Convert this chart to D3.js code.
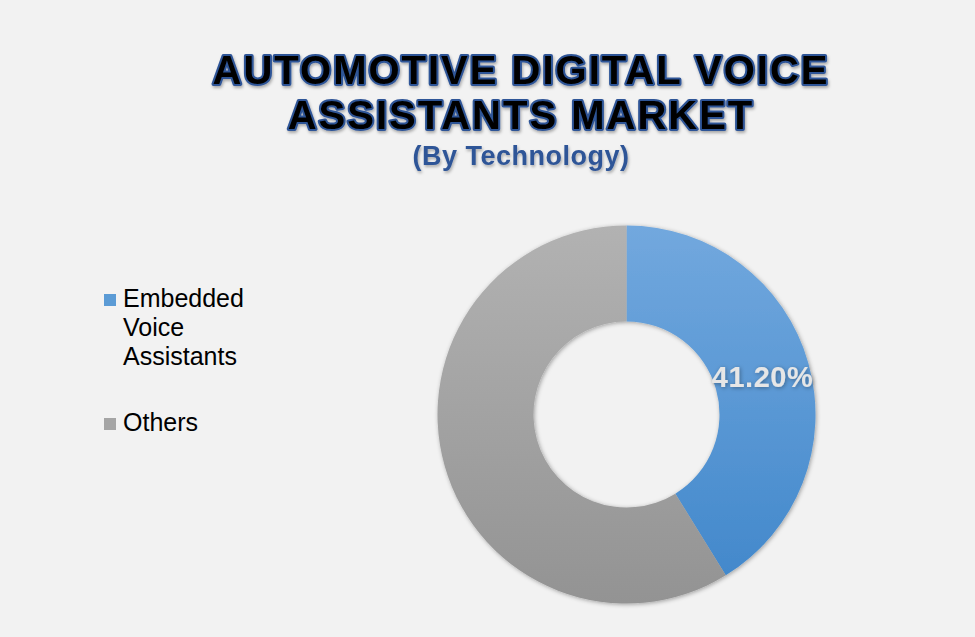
<!DOCTYPE html>
<html>
<head>
<meta charset="utf-8">
<script src="https://cdn.jsdelivr.net/npm/d3@7"></script>
<style>
  body { margin: 0; background: #f2f2f2; }
  svg { display: block; font-family: "Liberation Sans", Arial, sans-serif; }
</style>
</head>
<body>
<div id="viz"></div>
<script>
const categories = ['Embedded Voice Assistants', 'Others']
const legendLines = [['Embedded', 'Voice', 'Assistants'], ['Others']]
const shares = [41.2, 58.8]
const labels = ['41.20%', null]
const titleLines = ['AUTOMOTIVE DIGITAL VOICE', 'ASSISTANTS MARKET']
const subtitle = '(By Technology)'

const w = 975, h = 637
const data = categories.map((c, i) => ({ name: c, value: shares[i], label: labels[i], lines: legendLines[i] }))

const svg = d3.select('#viz')
    .append('svg')
    .attr('width', w)
    .attr('height', h)
    .attr('viewBox', [0, 0, w, h])

svg.append('rect').attr('width', w).attr('height', h).attr('fill', '#f2f2f2')

const defs = svg.append('defs')

const cx = 626.5, cy = 414.5, outerR = 189, innerR = 93

// vertical gradients across the donut box
const grads = [['#72a8de', '#3f86ca'], ['#b2b2b2', '#939393']]
grads.forEach((g, i) => {
    const lg = defs.append('linearGradient')
        .attr('id', 'grad' + i)
        .attr('gradientUnits', 'userSpaceOnUse')
        .attr('x1', 0).attr('x2', 0)
        .attr('y1', -outerR).attr('y2', outerR)
    lg.append('stop').attr('offset', '0%').attr('stop-color', g[0])
    lg.append('stop').attr('offset', '100%').attr('stop-color', g[1])
})

const shadow = defs.append('filter').attr('id', 'shadow')
    .attr('x', '-10%').attr('y', '-10%').attr('width', '120%').attr('height', '120%')
shadow.append('feDropShadow')
    .attr('dx', 1).attr('dy', 1).attr('stdDeviation', 2)
    .attr('flood-color', '#000').attr('flood-opacity', 0.35)

const glow = defs.append('filter').attr('id', 'glow')
    .attr('x', '-5%').attr('y', '-20%').attr('width', '110%').attr('height', '140%')
glow.append('feDropShadow')
    .attr('dx', 1).attr('dy', 2).attr('stdDeviation', 1.5)
    .attr('flood-color', '#000').attr('flood-opacity', 0.3)

// titles
const title = svg.append('g').attr('filter', 'url(#glow)')
titleLines.forEach((t, i) => {
    title.append('text')
        .attr('x', 521)
        .attr('y', 84 + i * 45)
        .attr('text-anchor', 'middle')
        .attr('font-size', 40)
        .attr('font-weight', 'bold')
        .attr('letter-spacing', 2)
        .attr('fill', '#000')
        .attr('stroke', '#2f5597')
        .attr('stroke-width', 4)
        .attr('paint-order', 'stroke')
        .attr('stroke-linejoin', 'round')
        .text(t)
})
title.append('text')
    .attr('x', 521)
    .attr('y', 165)
    .attr('text-anchor', 'middle')
    .attr('font-size', 27)
    .attr('font-weight', 'bold')
    .attr('letter-spacing', 0.5)
    .attr('fill', '#2f5597')
    .text(subtitle)

// donut
const pie = d3.pie().sort(null).value(d => d.value)
const arc = d3.arc().innerRadius(innerR).outerRadius(outerR)
const arcs = pie(data)

const g = svg.append('g')
    .attr('transform', `translate(${cx}, ${cy})`)

g.append('g')
    .attr('filter', 'url(#shadow)')
    .selectAll('path')
    .data(arcs)
    .enter()
    .append('path')
    .attr('d', arc)
    .attr('fill', (d, i) => `url(#grad${i})`)

g.selectAll('text.lbl')
    .data(arcs.filter(d => d.data.label))
    .enter()
    .append('text')
    .attr('class', 'lbl')
    .attr('x', 136)
    .attr('y', -28)
    .attr('text-anchor', 'middle')
    .attr('font-size', 29)
    .attr('font-weight', 'bold')
    .attr('letter-spacing', 0.5)
    .attr('fill', '#e6e6e6')
    .attr('filter', 'url(#shadow)')
    .text(d => d.data.label)

// legend
const legendColors = ['#5b9bd5', '#a5a5a5']
const legend = svg.append('g')
const tops = [307, 431]
data.forEach((d, i) => {
    legend.append('rect')
        .attr('x', 104)
        .attr('y', tops[i] - 13)
        .attr('width', 12)
        .attr('height', 12)
        .attr('fill', legendColors[i])
    d.lines.forEach((ln, j) => {
        legend.append('text')
            .attr('x', 123)
            .attr('y', tops[i] + j * 29)
            .attr('font-size', 25)
            .attr('fill', '#000')
            .text(ln)
    })
})
</script>
</body>
</html>
